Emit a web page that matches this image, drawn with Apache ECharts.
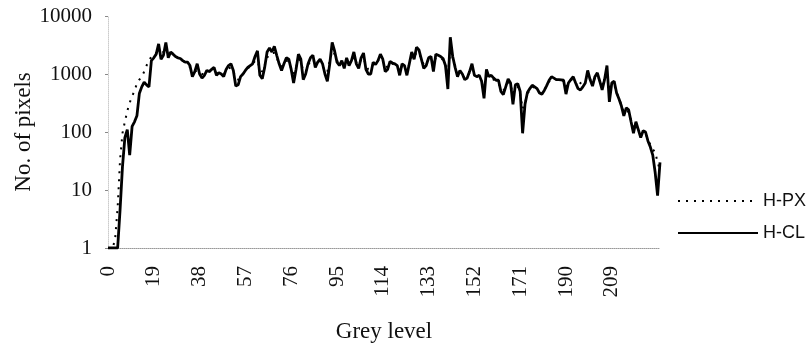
<!DOCTYPE html>
<html><head><meta charset="utf-8">
<script src="https://cdn.jsdelivr.net/npm/echarts@6/dist/echarts.min.js"></script>
<style>html,body{margin:0;padding:0;background:#fff}#c{width:812px;height:348px}</style>
</head><body><div id="c"></div>
<script>
// Grey levels (categories) 0..229
const greyLevels = Array.from({length: 230}, (_, i) => String(i));
const xTickLabels = [0, 19, 38, 57, 76, 95, 114, 133, 152, 171, 190, 209];
const yTickLabels = [1, 10, 100, 1000, 10000];

// H-PX (dotted)
const hPX = [
  1,1,1,1.5,5,33,95,150,230,320,
  410,520,680,800,890,1100,1400,1700,2000,2100,
  2300,2500,2400,2400,2500,2300,2200,2100,2000,1900,
  1800,1700,1600,1500,1300,1150,1100,1150,1050,1000,
  1000,1050,1100,1150,1150,1050,1000,1000,1000,1100,
  1250,1300,1100,850,800,900,1000,1100,1250,1350,
  1450,1700,1700,1200,1100,1400,1900,2200,2300,2300,
  1900,1500,1350,1500,1700,1600,1250,1000,1300,1800,
  1700,1100,1100,1400,1700,1800,1500,1600,1700,1400,
  1100,1100,1700,2500,2200,1700,1500,1600,1450,1700,
  1550,1700,2000,1600,1450,1800,1900,1400,1200,1200,
  1500,1500,1700,1900,1700,1300,1350,1550,1500,1450,
  1350,1100,1400,1300,1100,1500,2000,1900,2400,2300,
  1800,1450,1500,1800,1900,1500,1900,1950,1900,1750,
  1400,1000,2600,1900,1400,1050,1050,950,850,900,
  1050,1250,1000,900,900,750,600,900,850,850,
  800,750,700,550,520,600,720,650,450,600,
  600,450,250,320,450,540,600,580,540,480,
  480,530,620,740,850,830,800,790,780,760,
  600,680,780,830,700,600,700,720,780,950,
  820,720,850,950,780,650,800,1000,600,650,
  650,480,380,290,220,240,220,160,120,130,
  110,90,100,95,75,60,50,45,30,22
];

// H-CL (solid)
const hCL = [
  1,1,1,1,1,4.5,25,80,110,40,
  125,150,190,460,600,720,650,600,1700,1900,
  2200,3300,1800,2100,3500,1900,2400,2200,2000,1900,
  1850,1700,1600,1600,1400,900,1100,1500,1000,850,
  950,1150,1100,1200,1300,950,1050,1000,900,1200,
  1400,1500,1150,620,650,900,1000,1150,1300,1400,
  1500,2000,2500,950,830,1300,2400,2800,2400,3000,
  2100,1500,1150,1500,1900,1800,1200,700,1200,2200,
  1800,800,1000,1500,1900,2100,1300,1600,1800,1500,
  1000,750,1500,3500,2500,1600,1400,1700,1250,1900,
  1400,1700,2400,1500,1250,1900,2300,1200,1000,1000,
  1600,1450,1700,2200,1800,1100,1200,1650,1550,1500,
  1400,950,1500,1400,950,1500,2400,1800,2900,2600,
  1800,1250,1400,1900,2000,1100,2200,2100,2000,1850,
  1400,550,4300,2000,1300,900,1150,1000,800,850,
  1100,1500,950,900,950,750,380,1200,900,950,
  850,780,780,500,440,600,820,700,300,650,
  680,500,95,300,480,560,640,600,560,470,
  450,520,630,780,900,850,800,800,790,780,
  450,700,800,900,700,560,530,600,700,1150,
  800,620,900,1050,750,530,800,1400,330,700,
  750,470,370,280,190,260,240,150,95,150,
  110,80,105,100,70,55,40,20,8,30
];

const serif = "'Liberation Serif', 'DejaVu Serif', serif";
const sans = "'Liberation Sans', Arial, sans-serif";

const chart = echarts.init(document.getElementById('c'), null, {renderer: 'canvas'});
chart.setOption({
  animation: false,
  backgroundColor: '#fff',
  grid: {left: 108, right: 152, top: 16, bottom: 100, outerBoundsMode: 'none', containLabel: false},
  legend: {
    orient: 'vertical',
    left: 672,
    top: 187,
    itemWidth: 80,
    itemHeight: 14,
    itemGap: 14,
    itemStyle: {opacity: 0, borderWidth: 0},
    lineStyle: {width: 2},
    textStyle: {fontFamily: sans, fontSize: 18, lineHeight: 18, color: '#111'},
    data: ['H-PX', 'H-CL']
  },
  xAxis: {
    type: 'category',
    data: greyLevels,
    boundaryGap: false,
    name: 'Grey level',
    nameLocation: 'middle',
    nameGap: 72,
    nameMoveOverlap: false,
    nameTextStyle: {fontFamily: serif, fontSize: 23, color: '#111'},
    axisLine: {lineStyle: {type: 'dotted', color: '#999', width: 1}},
    axisTick: {show: false},
    axisLabel: {
      rotate: 90,
      margin: 18,
      interval: (i) => xTickLabels.indexOf(i) >= 0,
      fontFamily: serif, fontSize: 21, color: '#111'
    },
    splitLine: {show: false}
  },
  yAxis: {
    type: 'log',
    logBase: 10,
    min: 1,
    max: 10000,
    name: 'No. of pixels',
    nameLocation: 'middle',
    nameRotate: 90,
    nameGap: 73,
    nameMoveOverlap: false,
    nameTextStyle: {fontFamily: serif, fontSize: 23, color: '#111'},
    axisLine: {show: true, lineStyle: {type: 'dotted', color: '#ccc', width: 1}},
    axisTick: {show: true, length: 3, lineStyle: {color: '#888'}},
    axisLabel: {
      margin: 16,
      fontFamily: serif, fontSize: 21, color: '#111',
      formatter: (v) => {
        const r = Math.round(v);
        return yTickLabels.indexOf(r) >= 0 ? String(r) : '';
      }
    },
    splitLine: {show: false}
  },
  series: [
    {
      name: 'H-PX', type: 'line', data: hPX, symbol: 'none', z: 2,
      itemStyle: {color: '#000'},
      lineStyle: {color: '#000', width: 2, type: [2, 6]}
    },
    {
      name: 'H-CL', type: 'line', data: hCL, symbol: 'none', z: 3,
      itemStyle: {color: '#000'},
      lineStyle: {color: '#000', width: 2.8}
    }
  ]
});
</script>
</body></html>
